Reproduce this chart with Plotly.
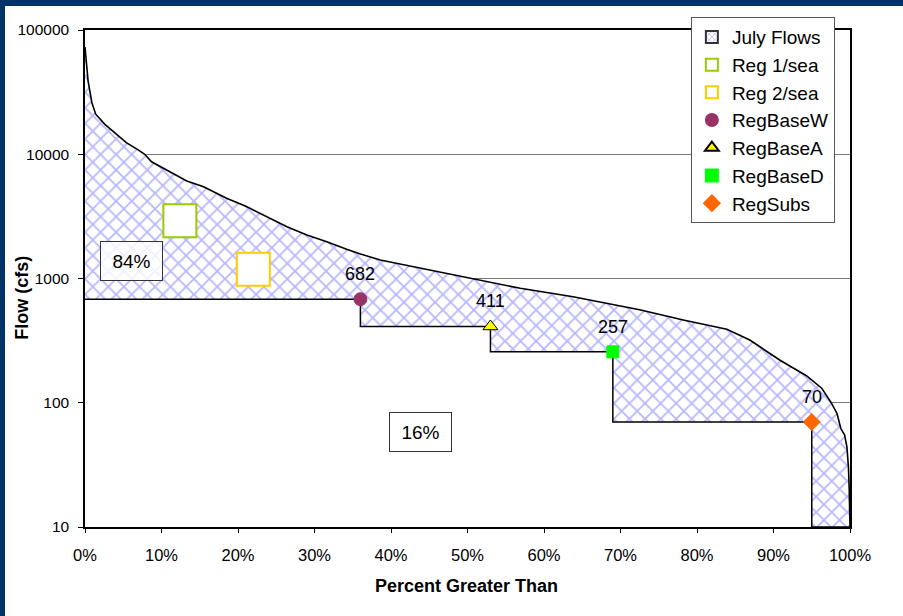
import math
import plotly.graph_objects as go

# ---- data ----
curve_pct = [0.0, 0.4, 0.9, 1.4, 2.6, 4.0, 5.4, 7.0, 7.8, 8.7, 10.7, 13.3, 15.5, 18.5,
             21.1, 23.8, 26.4, 29.0, 31.6, 34.2, 35.9, 38.6, 43.8, 50.3, 56.9, 63.8,
             67.3, 70.8, 72.5, 78.2, 83.9, 86.9, 90.8, 94.3, 96.3, 97.5, 98.3, 98.8,
             99.3, 99.6, 99.8, 99.9, 100.0]
curve_flow = [73000, 39000, 26000, 21000, 17400, 14700, 12400, 10800, 10000, 8700, 7450,
              6100, 5480, 4420, 3790, 3140, 2610, 2240, 1980, 1720, 1580, 1410, 1210,
              1005, 834, 714, 650, 593, 560, 463, 390, 320, 221, 165, 131, 101, 82,
              62, 55, 44, 30, 20, 10]

reg_names = ["RegBaseW", "RegBaseA", "RegBaseD", "RegSubs"]
reg_pct = [36, 53, 69, 95]
reg_flow = [682, 411, 257, 70]
reg_symbols = ["circle", "triangle-up", "square", "diamond"]
reg_colors = ["#993366", "#ffff00", "#00ff00", "#ff6600"]
reg_line_colors = ["#993366", "#000000", "#00ff00", "#ff6600"]
reg_sizes = [13, 13, 12, 13]

sea_names = ["Reg 1/sea", "Reg 2/sea"]
sea_pct = [12.4, 22.0]
sea_flow = [2920, 1186]
sea_colors = ["#99cc00", "#ffcc00"]

pct_box_text = ["84%", "16%"]
pct_box_x = [6.1, 43.8]
pct_box_y = [1396, 58.2]

y_min, y_max = 10, 100000
y_ticks = [10, 100, 1000, 10000, 100000]
x_ticks = list(range(0, 101, 10))

FONT = "Liberation Sans, Arial, sans-serif"
NAVY = "#003366"
HATCH = "#7070ff"

# step line built from the regulation values
step_x, step_y = [0], [reg_flow[0]]
for i, (p, f) in enumerate(zip(reg_pct, reg_flow)):
    nxt = reg_flow[i + 1] if i + 1 < len(reg_flow) else y_min
    step_x += [p, p]
    step_y += [f, nxt]
step_x.append(100)
step_y.append(y_min)

fig = go.Figure()

# baseline at axis bottom (for the white fill under the step)
fig.add_trace(go.Scatter(x=[0, 100], y=[y_min, y_min], mode="lines",
                         line=dict(width=0, color="white"), showlegend=False,
                         hoverinfo="skip"))
# step line with white fill beneath it
fig.add_trace(go.Scatter(x=step_x, y=step_y, mode="lines", fill="tonexty",
                         fillcolor="white", line=dict(color="black", width=1.5),
                         showlegend=False, hoverinfo="skip"))
# July flows duration curve, hatched between curve and step
fig.add_trace(go.Scatter(x=curve_pct, y=curve_flow, mode="lines", fill="tonexty",
                         fillpattern=dict(shape="x", fgcolor=HATCH, bgcolor="white",
                                          size=11, solidity=0.3),
                         line=dict(color="black", width=1.6),
                         showlegend=False, name="July Flows"))
# legend entry for July Flows
fig.add_trace(go.Bar(x=[None], y=[None], name="July Flows",
                     marker=dict(color="white", line=dict(color="#333333", width=1),
                                 pattern=dict(shape="x", fgcolor=HATCH,
                                              bgcolor="white", size=5, solidity=0.35))))

for n, px, fy, c in zip(sea_names, sea_pct, sea_flow, sea_colors):
    fig.add_trace(go.Scatter(x=[px], y=[fy], mode="markers", name=n,
                             marker=dict(symbol="square", size=33, color="white",
                                         line=dict(color=c, width=2))))

for n, px, fy, s, c, lc, sz in zip(reg_names, reg_pct, reg_flow, reg_symbols,
                                   reg_colors, reg_line_colors, reg_sizes):
    fig.add_trace(go.Scatter(x=[px], y=[fy], mode="markers", name=n,
                             marker=dict(symbol=s, size=sz, color=c,
                                         line=dict(color=lc, width=1))))

annotations = []
for px, fy in zip(reg_pct, reg_flow):
    annotations.append(dict(x=px, y=math.log10(fy), xref="x", yref="y", text=str(fy),
                            showarrow=False, yshift=25,
                            font=dict(family=FONT, size=18, color="black")))
for t, px, fy in zip(pct_box_text, pct_box_x, pct_box_y):
    annotations.append(dict(x=px, y=math.log10(fy), xref="x", yref="y", text=t,
                            showarrow=False, width=61, height=38, borderpad=0,
                            bordercolor="#333333", borderwidth=1,
                            bgcolor="rgba(255,255,255,0.8)",
                            font=dict(family=FONT, size=19, color="black")))
# axis titles
annotations.append(dict(x=-0.0824, y=0.461, xref="paper", yref="paper",
                        text="<b>Flow (cfs)</b>", textangle=-90, showarrow=False,
                        xanchor="center", yanchor="middle",
                        font=dict(family=FONT, size=18, color="black")))
annotations.append(dict(x=0.4993, y=-0.1187, xref="paper", yref="paper",
                        text="<b>Percent Greater Than</b>", showarrow=False,
                        xanchor="center", yanchor="middle",
                        font=dict(family=FONT, size=18, color="black")))

shapes = [
    dict(type="rect", xref="paper", yref="paper", x0=-0.12, x1=-0.10458,
         y0=-0.2, y1=1.07, fillcolor=NAVY, line=dict(width=0), layer="above"),
    dict(type="rect", xref="paper", yref="paper", x0=-0.12, x1=1.08,
         y0=1.04829, y1=1.07, fillcolor=NAVY, line=dict(width=0), layer="above"),
]

fig.update_layout(
    width=903, height=616,
    margin=dict(l=85, r=53, t=30, b=89),
    paper_bgcolor="white", plot_bgcolor="white",
    font=dict(family=FONT, color="black"),
    showlegend=True,
    legend=dict(x=0.792, y=1.026, xanchor="left", yanchor="top",
                bgcolor="white", bordercolor="#555555", borderwidth=1,
                font=dict(family=FONT, size=19, color="black"),
                itemsizing="constant", itemwidth=30, tracegroupgap=0,
                traceorder="normal"),
    annotations=annotations,
    shapes=shapes,
)
fig.update_xaxes(range=[0, 100], tickvals=x_ticks, ticktext=[f"{v}%" for v in x_ticks],
                 showgrid=False, zeroline=False, showline=True, linecolor="black",
                 linewidth=1.5, mirror=True, ticks="outside", ticklen=4,
                 tickcolor="black", tickfont=dict(family=FONT, size=16.5),
                 ticklabelstandoff=8)
fig.update_yaxes(type="log", range=[1, 5], tickvals=y_ticks,
                 ticktext=[str(v) for v in y_ticks],
                 showgrid=True, gridcolor="#777777", gridwidth=1, zeroline=False,
                 showline=True, linecolor="black", linewidth=1.5, mirror=True,
                 ticks="outside", ticklen=5, tickcolor="black",
                 tickfont=dict(family=FONT, size=15.5), ticklabelstandoff=6)

fig.write_html("out.html", config={"displayModeBar": False},
               post_script="document.body.style.margin='0';"
                           "document.body.style.overflow='hidden';")
